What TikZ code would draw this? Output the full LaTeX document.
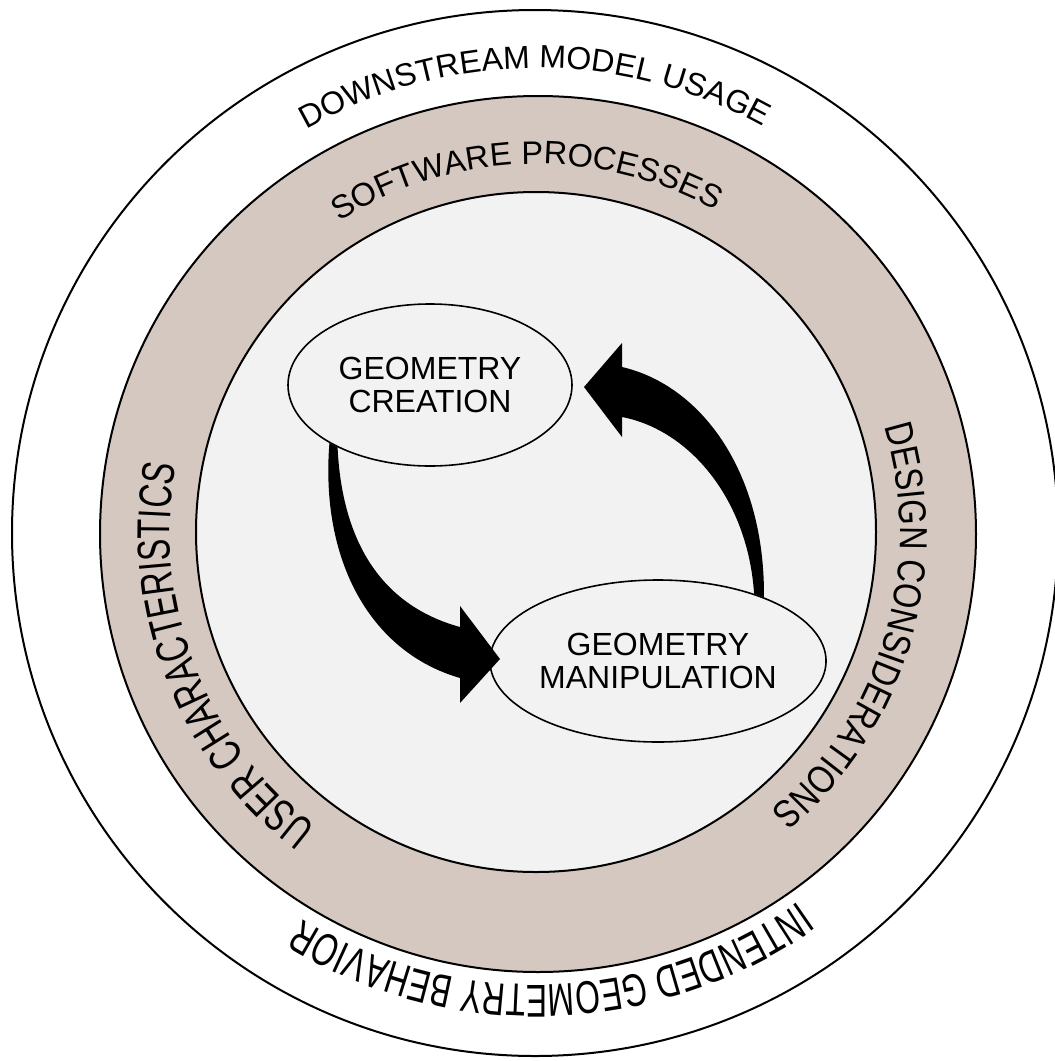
\documentclass[tikz,border=0pt]{standalone}
\usepackage{fontspec}
\setmainfont{Liberation Sans}
\newfontfamily\narrowA[FakeStretch=0.71]{Liberation Sans}
\newfontfamily\narrowB[FakeStretch=0.83]{Liberation Sans}
\newfontfamily\narrowC[FakeStretch=0.69]{Liberation Sans}
\usetikzlibrary{shapes.geometric,decorations.text}
\definecolor{ringbeige}{RGB}{213,200,192}
\definecolor{innergrey}{RGB}{242,242,242}
\begin{document}
\begin{tikzpicture}[x=1pt,y=-1pt,
  ringline/.style={draw=black,line width=2pt},
  ringtext/.style={decorate,decoration={text along path,text align=center,text={#1}}},
  bubble/.style={ellipse,draw=black,line width=1.6pt,fill=innergrey,
    minimum width=284pt,minimum height=162pt,inner sep=0pt,align=center,
    font=\fontsize{32}{33}\selectfont},
  bigarrow/.style={fill=black}]
\useasboundingbox (0,0) rectangle (1055,1061);
\fill[white] (0,0) rectangle (1055,1061);
\coordinate (C) at (537,533);
% rings
\path[ringline,fill=white] (535,533) circle[radius=523];
\path[ringline,fill=ringbeige] (538,534) circle[radius=438];
\path[ringline,fill=innergrey] (536,532) circle[radius=340];
% ring texts
\path[ringtext={|\fontsize{32}{32}\selectfont|DOWNSTREAM MODEL USAGE}]
  ([shift={(C)}]-140.3:465) arc[start angle=-140.3,end angle=-40.3,radius=465];
\path[ringtext={|\fontsize{32.5}{32}\selectfont|SOFTWARE PROCESSES}]
  ([shift={(C)}]-141.7:369) arc[start angle=-141.7,end angle=-41.7,radius=369];
\path[ringtext={|\narrowA\fontsize{46}{46}\selectfont|USER CHARACTERISTICS}]
  ([shift={(C)}]-251.2:367) arc[start angle=-251.2,end angle=-151.2,radius=367];
\path[ringtext={|\narrowB\fontsize{39}{39}\selectfont|DESIGN CONSIDERATIONS}]
  ([shift={(C)}]-33.5:363) arc[start angle=-33.5,end angle=66.5,radius=363];
\path[ringtext={|\narrowC\fontsize{46}{46}\selectfont|INTENDED GEOMETRY BEHAVIOR}]
  ([shift={(C)}]38:452) arc[start angle=38,end angle=138,radius=452];
% ellipses
\node[bubble] (create) at (430,385) {GEOMETRY\\CREATION};
\node[bubble] (manip) at (658,661) {GEOMETRY\\MANIPULATION};
\coordinate (tipA) at (500,659);
\coordinate (tipB) at (584,387);
% arrow from creation to manipulation
\fill[bigarrow] (create.210) .. controls (320,560) and (370,652) .. (460,678)
  -- (460,703) -- (tipA) -- (460,606) -- (460,627)
  .. controls (380,605) and (342,540) .. (create.214) -- cycle;
% arrow from manipulation to creation
\fill[bigarrow] (manip.31) .. controls (765,470) and (700,385) .. (622,367)
  -- (622,343) -- (tipB) -- (622,437) -- (622,417)
  .. controls (690,430) and (748,500) .. (manip.35) -- cycle;
\end{tikzpicture}
\end{document}
